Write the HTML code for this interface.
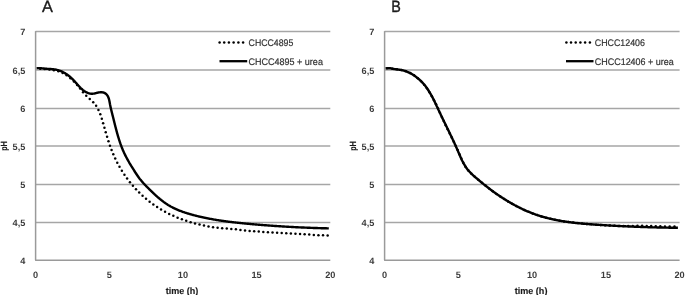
<!DOCTYPE html>
<html><head><meta charset="utf-8"><style>
html,body{margin:0;padding:0;background:#fff;}
body{width:685px;height:295px;overflow:hidden;}
svg{display:block;text-rendering:geometricPrecision;}
.gl{stroke:#a6a6a6;stroke-width:1.3;}
.ax{stroke:#9a9a9a;stroke-width:1.5;}
.tk{font-family:"Liberation Sans",sans-serif;font-weight:bold;font-size:9.2px;fill:#3c3c3c;}
.ttl{font-family:"Liberation Sans",sans-serif;font-weight:bold;font-size:9px;fill:#1a1a1a;stroke:#1a1a1a;stroke-width:0.15;}
.lg{font-family:"Liberation Sans",sans-serif;font-size:9.6px;fill:#333;stroke:#333;stroke-width:0.2;}
.big{font-family:"Liberation Sans",sans-serif;font-size:16.3px;fill:#1a1a1a;stroke:#1a1a1a;stroke-width:0.35;}
.sol{fill:none;stroke:#000;stroke-width:2.4;stroke-linejoin:round;stroke-linecap:butt;}
.dd{fill:#000;}
.dot{fill:none;stroke:#000;stroke-width:2.5;stroke-dasharray:0 4.6;stroke-linecap:round;}
</style></head><body>
<svg width="685" height="295" viewBox="0 0 685 295">
<line x1="35.6" y1="31.50" x2="330.3" y2="31.50" class="gl"/>
<line x1="35.6" y1="70.00" x2="330.3" y2="70.00" class="gl"/>
<line x1="35.6" y1="108.50" x2="330.3" y2="108.50" class="gl"/>
<line x1="35.6" y1="146.00" x2="330.3" y2="146.00" class="gl"/>
<line x1="35.6" y1="184.50" x2="330.3" y2="184.50" class="gl"/>
<line x1="35.6" y1="222.50" x2="330.3" y2="222.50" class="gl"/>
<line x1="35.6" y1="31.1" x2="35.6" y2="260.2" class="ax"/>
<line x1="35.1" y1="260.2" x2="330.3" y2="260.2" class="ax"/>
<text x="25.3" y="35.4" class="tk" text-anchor="end">7</text>
<text x="25.3" y="73.9" class="tk" text-anchor="end">6,5</text>
<text x="25.3" y="112.4" class="tk" text-anchor="end">6</text>
<text x="25.3" y="149.9" class="tk" text-anchor="end">5,5</text>
<text x="25.3" y="188.4" class="tk" text-anchor="end">5</text>
<text x="25.3" y="226.4" class="tk" text-anchor="end">4,5</text>
<text x="25.3" y="264.0" class="tk" text-anchor="end">4</text>
<text x="35.6" y="278.3" class="tk" text-anchor="middle">0</text>
<text x="109.3" y="278.3" class="tk" text-anchor="middle">5</text>
<text x="182.9" y="278.3" class="tk" text-anchor="middle">10</text>
<text x="256.6" y="278.3" class="tk" text-anchor="middle">15</text>
<text x="330.3" y="278.3" class="tk" text-anchor="middle">20</text>
<text x="182.0" y="293.5" class="ttl" text-anchor="middle" textLength="32.6" lengthAdjust="spacingAndGlyphs" style="font-size:9.4px">time (h)</text>
<text transform="translate(7.1,146) rotate(-90)" class="ttl" text-anchor="middle" textLength="9.5" lengthAdjust="spacingAndGlyphs">pH</text>
<text x="42.0" y="11.6" class="big">A</text>
<g class="dd"><circle cx="219.6" cy="42.6" r="1.25"/><circle cx="224.2" cy="42.6" r="1.25"/><circle cx="228.9" cy="42.6" r="1.25"/><circle cx="233.6" cy="42.6" r="1.25"/><circle cx="238.4" cy="42.6" r="1.25"/><circle cx="243.1" cy="42.6" r="1.25"/></g>
<line x1="219.5" y1="61.2" x2="247.2" y2="61.2" class="sol" style="stroke-width:2.3"/>
<text x="248.6" y="45.8" class="lg" textLength="44.7" lengthAdjust="spacingAndGlyphs">CHCC4895</text>
<text x="248.6" y="65.3" class="lg" textLength="74.3" lengthAdjust="spacingAndGlyphs">CHCC4895 + urea</text>
<g class="dd"><circle cx="40.17" cy="68.82" r="1.25"/>
<circle cx="44.76" cy="69.11" r="1.25"/>
<circle cx="49.34" cy="69.50" r="1.25"/>
<circle cx="53.89" cy="70.16" r="1.25"/>
<circle cx="58.36" cy="71.27" r="1.25"/>
<circle cx="62.62" cy="72.99" r="1.25"/>
<circle cx="66.60" cy="75.28" r="1.25"/>
<circle cx="70.41" cy="78.15" r="1.25"/>
<circle cx="73.89" cy="81.38" r="1.25"/>
<circle cx="77.10" cy="84.89" r="1.25"/>
<circle cx="80.08" cy="88.59" r="1.25"/>
<circle cx="83.04" cy="92.29" r="1.25"/>
<circle cx="86.24" cy="95.77" r="1.25"/>
<circle cx="89.77" cy="98.93" r="1.25"/>
<circle cx="93.22" cy="102.14" r="1.25"/>
<circle cx="96.14" cy="105.84" r="1.25"/>
<circle cx="98.46" cy="109.94" r="1.25"/>
<circle cx="100.29" cy="114.28" r="1.25"/>
<circle cx="101.80" cy="118.73" r="1.25"/>
<circle cx="103.14" cy="123.24" r="1.25"/>
<circle cx="104.44" cy="127.75" r="1.25"/>
<circle cx="105.74" cy="132.25" r="1.25"/>
<circle cx="107.08" cy="136.74" r="1.25"/>
<circle cx="108.47" cy="141.20" r="1.25"/>
<circle cx="109.96" cy="145.64" r="1.25"/>
<circle cx="111.55" cy="150.03" r="1.25"/>
<circle cx="113.29" cy="154.36" r="1.25"/>
<circle cx="115.19" cy="158.62" r="1.25"/>
<circle cx="117.26" cy="162.79" r="1.25"/>
<circle cx="119.49" cy="166.87" r="1.25"/>
<circle cx="121.89" cy="170.86" r="1.25"/>
<circle cx="124.43" cy="174.75" r="1.25"/>
<circle cx="127.11" cy="178.54" r="1.25"/>
<circle cx="129.94" cy="182.22" r="1.25"/>
<circle cx="132.90" cy="185.79" r="1.25"/>
<circle cx="135.99" cy="189.24" r="1.25"/>
<circle cx="139.21" cy="192.57" r="1.25"/>
<circle cx="142.55" cy="195.76" r="1.25"/>
<circle cx="146.02" cy="198.82" r="1.25"/>
<circle cx="149.61" cy="201.73" r="1.25"/>
<circle cx="153.32" cy="204.49" r="1.25"/>
<circle cx="157.14" cy="207.09" r="1.25"/>
<circle cx="161.06" cy="209.53" r="1.25"/>
<circle cx="165.07" cy="211.80" r="1.25"/>
<circle cx="169.17" cy="213.91" r="1.25"/>
<circle cx="173.34" cy="215.87" r="1.25"/>
<circle cx="177.58" cy="217.68" r="1.25"/>
<circle cx="181.87" cy="219.34" r="1.25"/>
<circle cx="186.22" cy="220.86" r="1.25"/>
<circle cx="190.61" cy="222.25" r="1.25"/>
<circle cx="195.03" cy="223.50" r="1.25"/>
<circle cx="199.50" cy="224.62" r="1.25"/>
<circle cx="203.99" cy="225.61" r="1.25"/>
<circle cx="208.50" cy="226.47" r="1.25"/>
<circle cx="213.04" cy="227.19" r="1.25"/>
<circle cx="217.60" cy="227.76" r="1.25"/>
<circle cx="222.17" cy="228.20" r="1.25"/>
<circle cx="226.76" cy="228.52" r="1.25"/>
<circle cx="231.34" cy="228.88" r="1.25"/>
<circle cx="235.90" cy="229.37" r="1.25"/>
<circle cx="240.46" cy="229.93" r="1.25"/>
<circle cx="245.03" cy="230.43" r="1.25"/>
<circle cx="249.60" cy="230.88" r="1.25"/>
<circle cx="254.17" cy="231.27" r="1.25"/>
<circle cx="258.75" cy="231.61" r="1.25"/>
<circle cx="263.34" cy="231.91" r="1.25"/>
<circle cx="267.92" cy="232.19" r="1.25"/>
<circle cx="272.51" cy="232.45" r="1.25"/>
<circle cx="277.10" cy="232.70" r="1.25"/>
<circle cx="281.69" cy="232.94" r="1.25"/>
<circle cx="286.28" cy="233.20" r="1.25"/>
<circle cx="290.87" cy="233.47" r="1.25"/>
<circle cx="295.46" cy="233.75" r="1.25"/>
<circle cx="300.05" cy="234.03" r="1.25"/>
<circle cx="304.64" cy="234.32" r="1.25"/>
<circle cx="309.24" cy="234.60" r="1.25"/>
<circle cx="313.83" cy="234.88" r="1.25"/>
<circle cx="318.43" cy="235.13" r="1.25"/>
<circle cx="323.03" cy="235.37" r="1.25"/>
<circle cx="327.64" cy="235.58" r="1.25"/></g>
<path d="M36.61,68.17 L37.21,68.14 L37.81,68.13 L38.41,68.13 L39.02,68.15 L39.62,68.17 L40.22,68.21 L40.82,68.25 L41.42,68.30 L42.02,68.35 L42.62,68.41 L43.21,68.47 L43.81,68.53 L44.41,68.60 L45.01,68.65 L45.61,68.71 L46.21,68.76 L46.81,68.81 L47.41,68.85 L48.01,68.89 L48.61,68.92 L49.21,68.96 L49.81,68.99 L50.41,69.03 L51.01,69.07 L51.61,69.12 L52.21,69.17 L52.81,69.22 L53.41,69.29 L54.01,69.36 L54.60,69.45 L55.20,69.54 L55.79,69.65 L56.38,69.77 L56.97,69.91 L57.55,70.06 L58.13,70.22 L58.70,70.39 L59.28,70.58 L59.84,70.78 L60.41,70.99 L60.97,71.21 L61.52,71.44 L62.07,71.68 L62.62,71.94 L63.16,72.21 L63.69,72.48 L64.22,72.77 L64.74,73.07 L65.26,73.37 L65.78,73.69 L66.28,74.01 L66.78,74.34 L67.28,74.69 L67.77,75.04 L68.25,75.39 L68.73,75.76 L69.20,76.13 L69.67,76.51 L70.13,76.90 L70.58,77.30 L71.03,77.70 L71.47,78.10 L71.91,78.52 L72.34,78.94 L72.77,79.36 L73.19,79.79 L73.60,80.23 L74.01,80.67 L74.42,81.11 L74.83,81.56 L75.23,82.01 L75.63,82.46 L76.03,82.91 L76.42,83.36 L76.82,83.81 L77.22,84.26 L77.62,84.71 L78.02,85.16 L78.42,85.61 L78.83,86.05 L79.24,86.49 L79.65,86.93 L80.07,87.36 L80.49,87.79 L80.92,88.21 L81.36,88.62 L81.80,89.03 L82.26,89.43 L82.72,89.82 L83.18,90.19 L83.66,90.56 L84.15,90.91 L84.65,91.25 L85.15,91.58 L85.67,91.88 L86.20,92.17 L86.74,92.45 L87.28,92.70 L87.84,92.93 L88.40,93.13 L88.98,93.31 L89.56,93.46 L90.15,93.59 L90.74,93.68 L91.34,93.73 L91.94,93.75 L92.55,93.74 L93.15,93.68 L93.74,93.60 L94.33,93.49 L94.92,93.36 L95.51,93.22 L96.09,93.08 L96.67,92.93 L97.26,92.78 L97.84,92.64 L98.43,92.52 L99.02,92.41 L99.62,92.33 L100.22,92.27 L100.82,92.23 L101.42,92.23 L102.02,92.26 L102.62,92.33 L103.21,92.45 L103.79,92.62 L104.34,92.85 L104.88,93.12 L105.39,93.45 L105.87,93.81 L106.31,94.21 L106.73,94.65 L107.11,95.11 L107.46,95.60 L107.77,96.12 L108.05,96.65 L108.30,97.20 L108.52,97.76 L108.72,98.33 L108.89,98.90 L109.05,99.48 L109.20,100.07 L109.33,100.65 L109.45,101.24 L109.56,101.83 L109.67,102.43 L109.78,103.02 L109.89,103.61 L109.99,104.20 L110.11,104.79 L110.22,105.38 L110.34,105.97 L110.46,106.56 L110.59,107.15 L110.72,107.74 L110.85,108.33 L110.99,108.91 L111.12,109.50 L111.26,110.08 L111.41,110.67 L111.55,111.25 L111.69,111.84 L111.84,112.42 L111.99,113.00 L112.13,113.59 L112.28,114.17 L112.43,114.75 L112.58,115.34 L112.73,115.92 L112.88,116.50 L113.02,117.09 L113.17,117.67 L113.32,118.25 L113.46,118.84 L113.61,119.42 L113.75,120.01 L113.90,120.59 L114.05,121.17 L114.19,121.76 L114.34,122.34 L114.48,122.93 L114.63,123.51 L114.78,124.09 L114.92,124.68 L115.07,125.26 L115.22,125.84 L115.37,126.43 L115.52,127.01 L115.67,127.59 L115.82,128.17 L115.97,128.76 L116.12,129.34 L116.28,129.92 L116.43,130.50 L116.59,131.08 L116.74,131.66 L116.90,132.24 L117.06,132.83 L117.22,133.40 L117.39,133.98 L117.55,134.56 L117.72,135.14 L117.88,135.72 L118.05,136.30 L118.22,136.87 L118.40,137.45 L118.57,138.03 L118.75,138.60 L118.93,139.18 L119.11,139.75 L119.29,140.32 L119.48,140.90 L119.67,141.47 L119.86,142.04 L120.05,142.61 L120.25,143.18 L120.44,143.74 L120.65,144.31 L120.85,144.88 L121.06,145.44 L121.27,146.01 L121.48,146.57 L121.69,147.13 L121.91,147.69 L122.13,148.25 L122.36,148.81 L122.59,149.37 L122.82,149.92 L123.05,150.48 L123.29,151.03 L123.54,151.58 L123.78,152.13 L124.03,152.68 L124.28,153.22 L124.54,153.77 L124.80,154.31 L125.07,154.85 L125.33,155.39 L125.60,155.93 L125.88,156.46 L126.16,157.00 L126.44,157.53 L126.72,158.06 L127.00,158.59 L127.29,159.12 L127.58,159.64 L127.88,160.17 L128.17,160.69 L128.47,161.22 L128.77,161.74 L129.07,162.26 L129.38,162.78 L129.68,163.30 L129.99,163.81 L130.30,164.33 L130.61,164.85 L130.92,165.36 L131.23,165.88 L131.55,166.39 L131.86,166.90 L132.18,167.41 L132.50,167.93 L132.81,168.44 L133.13,168.95 L133.45,169.46 L133.77,169.97 L134.09,170.48 L134.41,170.99 L134.73,171.49 L135.06,172.00 L135.38,172.51 L135.71,173.01 L136.04,173.52 L136.37,174.02 L136.70,174.52 L137.04,175.02 L137.38,175.52 L137.72,176.01 L138.06,176.50 L138.41,176.99 L138.77,177.48 L139.12,177.97 L139.49,178.45 L139.85,178.93 L140.22,179.40 L140.60,179.87 L140.98,180.34 L141.36,180.80 L141.75,181.26 L142.14,181.72 L142.54,182.17 L142.94,182.62 L143.34,183.07 L143.75,183.51 L144.15,183.95 L144.56,184.39 L144.98,184.83 L145.39,185.27 L145.81,185.70 L146.23,186.13 L146.65,186.56 L147.07,186.99 L147.50,187.42 L147.92,187.84 L148.35,188.27 L148.77,188.69 L149.20,189.12 L149.63,189.54 L150.06,189.96 L150.49,190.38 L150.92,190.80 L151.35,191.22 L151.78,191.64 L152.21,192.06 L152.65,192.48 L153.08,192.89 L153.52,193.31 L153.96,193.72 L154.40,194.13 L154.84,194.54 L155.28,194.95 L155.73,195.35 L156.17,195.76 L156.62,196.16 L157.07,196.56 L157.52,196.96 L157.98,197.35 L158.43,197.74 L158.89,198.13 L159.35,198.52 L159.81,198.91 L160.28,199.29 L160.74,199.67 L161.21,200.05 L161.69,200.42 L162.16,200.79 L162.64,201.16 L163.12,201.52 L163.60,201.88 L164.09,202.23 L164.57,202.59 L165.06,202.93 L165.56,203.28 L166.06,203.62 L166.56,203.95 L167.06,204.28 L167.56,204.61 L168.07,204.93 L168.59,205.24 L169.10,205.56 L169.62,205.86 L170.14,206.16 L170.66,206.46 L171.19,206.75 L171.72,207.03 L172.25,207.31 L172.79,207.59 L173.33,207.86 L173.87,208.13 L174.41,208.39 L174.95,208.65 L175.50,208.90 L176.05,209.15 L176.60,209.39 L177.15,209.63 L177.70,209.87 L178.26,210.10 L178.81,210.33 L179.37,210.55 L179.93,210.77 L180.49,210.99 L181.06,211.20 L181.62,211.41 L182.19,211.62 L182.75,211.82 L183.32,212.02 L183.89,212.21 L184.46,212.41 L185.03,212.60 L185.60,212.78 L186.18,212.97 L186.75,213.15 L187.32,213.33 L187.90,213.50 L188.48,213.68 L189.05,213.85 L189.63,214.02 L190.21,214.18 L190.79,214.35 L191.37,214.51 L191.95,214.67 L192.53,214.83 L193.11,214.99 L193.69,215.14 L194.27,215.30 L194.85,215.45 L195.44,215.60 L196.02,215.75 L196.60,215.89 L197.19,216.04 L197.77,216.18 L198.36,216.32 L198.94,216.46 L199.53,216.60 L200.11,216.74 L200.70,216.87 L201.29,217.01 L201.87,217.14 L202.46,217.27 L203.05,217.40 L203.64,217.53 L204.23,217.65 L204.81,217.78 L205.40,217.90 L205.99,218.02 L206.58,218.14 L207.17,218.26 L207.76,218.38 L208.35,218.49 L208.94,218.61 L209.54,218.72 L210.13,218.83 L210.72,218.94 L211.31,219.05 L211.90,219.16 L212.49,219.26 L213.09,219.37 L213.68,219.47 L214.27,219.57 L214.87,219.68 L215.46,219.78 L216.05,219.87 L216.65,219.97 L217.24,220.07 L217.84,220.16 L218.43,220.26 L219.02,220.35 L219.62,220.44 L220.21,220.53 L220.81,220.62 L221.40,220.71 L222.00,220.80 L222.60,220.88 L223.19,220.97 L223.79,221.05 L224.38,221.13 L224.98,221.22 L225.58,221.30 L226.17,221.38 L226.77,221.46 L227.37,221.53 L227.96,221.61 L228.56,221.69 L229.16,221.76 L229.75,221.84 L230.35,221.91 L230.95,221.98 L231.55,222.06 L232.14,222.13 L232.74,222.20 L233.34,222.27 L233.94,222.34 L234.53,222.41 L235.13,222.47 L235.73,222.54 L236.33,222.61 L236.93,222.67 L237.52,222.74 L238.12,222.80 L238.72,222.86 L239.32,222.93 L239.92,222.99 L240.52,223.05 L241.12,223.11 L241.71,223.17 L242.31,223.23 L242.91,223.29 L243.51,223.35 L244.11,223.41 L244.71,223.47 L245.31,223.52 L245.91,223.58 L246.51,223.64 L247.11,223.69 L247.70,223.75 L248.30,223.80 L248.90,223.86 L249.50,223.91 L250.10,223.97 L250.70,224.02 L251.30,224.08 L251.90,224.13 L252.50,224.18 L253.10,224.24 L253.70,224.29 L254.30,224.34 L254.90,224.39 L255.50,224.44 L256.10,224.49 L256.70,224.55 L257.30,224.60 L257.90,224.65 L258.50,224.70 L259.09,224.75 L259.69,224.80 L260.29,224.84 L260.89,224.89 L261.49,224.94 L262.09,224.99 L262.69,225.04 L263.29,225.08 L263.89,225.13 L264.49,225.18 L265.09,225.22 L265.69,225.27 L266.29,225.32 L266.89,225.36 L267.49,225.41 L268.09,225.45 L268.69,225.50 L269.29,225.54 L269.89,225.58 L270.49,225.63 L271.09,225.67 L271.70,225.71 L272.30,225.76 L272.90,225.80 L273.50,225.84 L274.10,225.88 L274.70,225.93 L275.30,225.97 L275.90,226.01 L276.50,226.05 L277.10,226.09 L277.70,226.13 L278.30,226.17 L278.90,226.21 L279.50,226.25 L280.10,226.28 L280.70,226.32 L281.30,226.36 L281.90,226.40 L282.50,226.43 L283.10,226.47 L283.70,226.51 L284.31,226.55 L284.91,226.58 L285.51,226.62 L286.11,226.65 L286.71,226.69 L287.31,226.72 L287.91,226.76 L288.51,226.79 L289.11,226.83 L289.71,226.86 L290.31,226.89 L290.91,226.92 L291.51,226.96 L292.12,226.99 L292.72,227.02 L293.32,227.05 L293.92,227.09 L294.52,227.12 L295.12,227.15 L295.72,227.18 L296.32,227.21 L296.92,227.24 L297.52,227.27 L298.13,227.30 L298.73,227.33 L299.33,227.35 L299.93,227.38 L300.53,227.41 L301.13,227.44 L301.73,227.47 L302.33,227.49 L302.93,227.52 L303.54,227.55 L304.14,227.57 L304.74,227.60 L305.34,227.62 L305.94,227.65 L306.54,227.67 L307.14,227.70 L307.74,227.72 L308.35,227.75 L308.95,227.77 L309.55,227.79 L310.15,227.82 L310.75,227.84 L311.35,227.86 L311.95,227.88 L312.56,227.90 L313.16,227.93 L313.76,227.95 L314.36,227.97 L314.96,227.99 L315.56,228.01 L316.16,228.03 L316.77,228.05 L317.37,228.07 L317.97,228.09 L318.57,228.11 L319.17,228.12 L319.77,228.14 L320.37,228.16 L320.98,228.18 L321.58,228.20 L322.18,228.21 L322.78,228.23 L323.38,228.24 L323.98,228.26 L324.59,228.28 L325.19,228.29 L325.79,228.31 L326.39,228.32 L326.99,228.34 L327.59,228.35 L328.19,228.36 L328.80,228.38" class="sol"/>
<line x1="384.6" y1="31.50" x2="679.6" y2="31.50" class="gl"/>
<line x1="384.6" y1="70.00" x2="679.6" y2="70.00" class="gl"/>
<line x1="384.6" y1="108.50" x2="679.6" y2="108.50" class="gl"/>
<line x1="384.6" y1="146.00" x2="679.6" y2="146.00" class="gl"/>
<line x1="384.6" y1="184.50" x2="679.6" y2="184.50" class="gl"/>
<line x1="384.6" y1="222.50" x2="679.6" y2="222.50" class="gl"/>
<line x1="384.6" y1="31.1" x2="384.6" y2="260.2" class="ax"/>
<line x1="384.1" y1="260.2" x2="679.6" y2="260.2" class="ax"/>
<text x="374.4" y="35.4" class="tk" text-anchor="end">7</text>
<text x="374.4" y="73.9" class="tk" text-anchor="end">6,5</text>
<text x="374.4" y="112.4" class="tk" text-anchor="end">6</text>
<text x="374.4" y="149.9" class="tk" text-anchor="end">5,5</text>
<text x="374.4" y="188.4" class="tk" text-anchor="end">5</text>
<text x="374.4" y="226.4" class="tk" text-anchor="end">4,5</text>
<text x="374.4" y="264.0" class="tk" text-anchor="end">4</text>
<text x="384.6" y="278.3" class="tk" text-anchor="middle">0</text>
<text x="458.4" y="278.3" class="tk" text-anchor="middle">5</text>
<text x="532.1" y="278.3" class="tk" text-anchor="middle">10</text>
<text x="605.9" y="278.3" class="tk" text-anchor="middle">15</text>
<text x="679.6" y="278.3" class="tk" text-anchor="middle">20</text>
<text x="531.1" y="293.5" class="ttl" text-anchor="middle" textLength="32.6" lengthAdjust="spacingAndGlyphs" style="font-size:9.4px">time (h)</text>
<text transform="translate(356.1,146) rotate(-90)" class="ttl" text-anchor="middle" textLength="9.5" lengthAdjust="spacingAndGlyphs">pH</text>
<text x="391.2" y="11.6" class="big" textLength="9.6" lengthAdjust="spacingAndGlyphs">B</text>
<g class="dd"><circle cx="566.4" cy="42.6" r="1.25"/><circle cx="571.0" cy="42.6" r="1.25"/><circle cx="575.7" cy="42.6" r="1.25"/><circle cx="580.4" cy="42.6" r="1.25"/><circle cx="585.1" cy="42.6" r="1.25"/><circle cx="589.9" cy="42.6" r="1.25"/></g>
<line x1="566.0" y1="61.2" x2="593.5" y2="61.2" class="sol" style="stroke-width:2.3"/>
<text x="594.8" y="45.8" class="lg" textLength="50.1" lengthAdjust="spacingAndGlyphs">CHCC12406</text>
<text x="594.8" y="65.3" class="lg" textLength="78.9" lengthAdjust="spacingAndGlyphs">CHCC12406 + urea</text>
<g class="dd"><circle cx="387.76" cy="68.29" r="1.25"/>
<circle cx="392.35" cy="68.64" r="1.25"/>
<circle cx="396.90" cy="69.29" r="1.25"/>
<circle cx="401.42" cy="70.11" r="1.25"/>
<circle cx="405.86" cy="71.32" r="1.25"/>
<circle cx="410.11" cy="73.06" r="1.25"/>
<circle cx="414.09" cy="75.37" r="1.25"/>
<circle cx="417.74" cy="78.16" r="1.25"/>
<circle cx="421.10" cy="81.30" r="1.25"/>
<circle cx="424.17" cy="84.72" r="1.25"/>
<circle cx="426.97" cy="88.37" r="1.25"/>
<circle cx="429.52" cy="92.20" r="1.25"/>
<circle cx="431.86" cy="96.16" r="1.25"/>
<circle cx="434.02" cy="100.22" r="1.25"/>
<circle cx="436.05" cy="104.35" r="1.25"/>
<circle cx="438.00" cy="108.52" r="1.25"/>
<circle cx="439.92" cy="112.70" r="1.25"/>
<circle cx="441.84" cy="116.88" r="1.25"/>
<circle cx="443.76" cy="121.06" r="1.25"/>
<circle cx="445.71" cy="125.22" r="1.25"/>
<circle cx="447.70" cy="129.37" r="1.25"/>
<circle cx="449.73" cy="133.50" r="1.25"/>
<circle cx="451.78" cy="137.62" r="1.25"/>
<circle cx="453.82" cy="141.74" r="1.25"/>
<circle cx="455.80" cy="145.89" r="1.25"/>
<circle cx="457.69" cy="150.08" r="1.25"/>
<circle cx="459.48" cy="154.32" r="1.25"/>
<circle cx="461.27" cy="158.56" r="1.25"/>
<circle cx="463.23" cy="162.72" r="1.25"/>
<circle cx="465.51" cy="166.72" r="1.25"/>
<circle cx="468.24" cy="170.41" r="1.25"/>
<circle cx="471.40" cy="173.75" r="1.25"/>
<circle cx="474.82" cy="176.82" r="1.25"/>
<circle cx="478.35" cy="179.78" r="1.25"/>
<circle cx="481.90" cy="182.70" r="1.25"/>
<circle cx="485.47" cy="185.60" r="1.25"/>
<circle cx="489.09" cy="188.44" r="1.25"/>
<circle cx="492.76" cy="191.22" r="1.25"/>
<circle cx="496.49" cy="193.90" r="1.25"/>
<circle cx="500.29" cy="196.50" r="1.25"/>
<circle cx="504.16" cy="198.99" r="1.25"/>
<circle cx="508.08" cy="201.39" r="1.25"/>
<circle cx="512.07" cy="203.69" r="1.25"/>
<circle cx="516.11" cy="205.88" r="1.25"/>
<circle cx="520.21" cy="207.97" r="1.25"/>
<circle cx="524.36" cy="209.95" r="1.25"/>
<circle cx="528.57" cy="211.79" r="1.25"/>
<circle cx="532.85" cy="213.50" r="1.25"/>
<circle cx="537.17" cy="215.05" r="1.25"/>
<circle cx="541.56" cy="216.45" r="1.25"/>
<circle cx="545.98" cy="217.70" r="1.25"/>
<circle cx="550.45" cy="218.80" r="1.25"/>
<circle cx="554.94" cy="219.78" r="1.25"/>
<circle cx="559.46" cy="220.64" r="1.25"/>
<circle cx="564.00" cy="221.39" r="1.25"/>
<circle cx="568.56" cy="222.04" r="1.25"/>
<circle cx="573.12" cy="222.61" r="1.25"/>
<circle cx="577.69" cy="223.11" r="1.25"/>
<circle cx="582.27" cy="223.55" r="1.25"/>
<circle cx="586.85" cy="223.95" r="1.25"/>
<circle cx="591.44" cy="224.32" r="1.25"/>
<circle cx="596.03" cy="224.66" r="1.25"/>
<circle cx="600.61" cy="225.00" r="1.25"/>
<circle cx="605.20" cy="225.33" r="1.25"/>
<circle cx="609.79" cy="225.62" r="1.25"/>
<circle cx="614.39" cy="225.85" r="1.25"/>
<circle cx="618.98" cy="225.98" r="1.25"/>
<circle cx="623.58" cy="226.01" r="1.25"/>
<circle cx="628.18" cy="225.97" r="1.25"/>
<circle cx="632.78" cy="225.90" r="1.25"/>
<circle cx="637.48" cy="225.86" r="1.25"/>
<circle cx="642.10" cy="225.87" r="1.25"/>
<circle cx="646.67" cy="225.93" r="1.25"/>
<circle cx="651.21" cy="226.02" r="1.25"/>
<circle cx="655.75" cy="226.13" r="1.25"/>
<circle cx="660.33" cy="226.26" r="1.25"/>
<circle cx="664.95" cy="226.38" r="1.25"/>
<circle cx="669.66" cy="226.49" r="1.25"/>
<circle cx="674.47" cy="226.57" r="1.25"/></g>
<path d="M385.60,68.58 L386.17,68.40 L386.76,68.26 L387.35,68.17 L387.95,68.13 L388.56,68.12 L389.16,68.16 L389.76,68.22 L390.35,68.30 L390.94,68.40 L391.54,68.52 L392.13,68.64 L392.72,68.76 L393.31,68.87 L393.90,68.97 L394.50,69.07 L395.09,69.16 L395.69,69.24 L396.28,69.32 L396.88,69.40 L397.48,69.47 L398.07,69.55 L398.67,69.63 L399.27,69.71 L399.86,69.80 L400.46,69.89 L401.05,69.99 L401.64,70.10 L402.23,70.22 L402.82,70.35 L403.41,70.49 L403.99,70.65 L404.57,70.81 L405.14,70.99 L405.71,71.18 L406.28,71.38 L406.84,71.60 L407.40,71.82 L407.95,72.06 L408.50,72.30 L409.05,72.56 L409.59,72.82 L410.12,73.10 L410.66,73.38 L411.18,73.67 L411.71,73.97 L412.22,74.28 L412.74,74.59 L413.25,74.91 L413.75,75.24 L414.25,75.57 L414.75,75.91 L415.24,76.26 L415.73,76.62 L416.21,76.98 L416.69,77.34 L417.16,77.71 L417.63,78.09 L418.09,78.47 L418.55,78.86 L419.01,79.26 L419.46,79.66 L419.90,80.06 L420.34,80.48 L420.77,80.89 L421.20,81.32 L421.62,81.75 L422.04,82.18 L422.45,82.62 L422.86,83.06 L423.26,83.51 L423.65,83.97 L424.04,84.43 L424.43,84.89 L424.81,85.36 L425.18,85.83 L425.55,86.30 L425.91,86.78 L426.27,87.27 L426.63,87.75 L426.98,88.24 L427.32,88.74 L427.66,89.23 L428.00,89.73 L428.33,90.24 L428.65,90.74 L428.98,91.25 L429.29,91.76 L429.61,92.28 L429.92,92.79 L430.23,93.31 L430.53,93.83 L430.83,94.35 L431.12,94.88 L431.42,95.40 L431.71,95.93 L431.99,96.46 L432.28,96.99 L432.56,97.52 L432.84,98.06 L433.11,98.59 L433.38,99.13 L433.66,99.67 L433.92,100.20 L434.19,100.74 L434.46,101.28 L434.72,101.82 L434.98,102.37 L435.24,102.91 L435.50,103.45 L435.76,104.00 L436.02,104.54 L436.27,105.09 L436.53,105.63 L436.78,106.18 L437.04,106.72 L437.29,107.27 L437.55,107.81 L437.80,108.36 L438.05,108.90 L438.31,109.45 L438.56,110.00 L438.82,110.54 L439.07,111.09 L439.33,111.63 L439.58,112.18 L439.84,112.72 L440.10,113.27 L440.35,113.81 L440.61,114.35 L440.87,114.90 L441.13,115.44 L441.39,115.98 L441.65,116.52 L441.91,117.07 L442.17,117.61 L442.44,118.15 L442.70,118.69 L442.96,119.24 L443.22,119.78 L443.48,120.32 L443.75,120.86 L444.01,121.40 L444.27,121.94 L444.54,122.48 L444.80,123.03 L445.06,123.57 L445.33,124.11 L445.59,124.65 L445.86,125.19 L446.12,125.73 L446.38,126.27 L446.65,126.81 L446.91,127.35 L447.17,127.90 L447.44,128.44 L447.70,128.98 L447.96,129.52 L448.23,130.06 L448.49,130.60 L448.75,131.14 L449.02,131.69 L449.28,132.23 L449.54,132.77 L449.80,133.31 L450.06,133.85 L450.32,134.40 L450.58,134.94 L450.84,135.48 L451.10,136.03 L451.36,136.57 L451.62,137.11 L451.88,137.66 L452.13,138.20 L452.39,138.75 L452.65,139.29 L452.90,139.84 L453.16,140.38 L453.41,140.93 L453.66,141.47 L453.92,142.02 L454.17,142.57 L454.42,143.11 L454.67,143.66 L454.92,144.21 L455.17,144.76 L455.42,145.31 L455.66,145.85 L455.91,146.40 L456.15,146.95 L456.40,147.50 L456.64,148.05 L456.88,148.61 L457.12,149.16 L457.36,149.71 L457.60,150.26 L457.84,150.81 L458.08,151.37 L458.31,151.92 L458.55,152.48 L458.78,153.03 L459.02,153.58 L459.26,154.14 L459.49,154.69 L459.73,155.24 L459.97,155.80 L460.21,156.35 L460.45,156.90 L460.70,157.45 L460.95,158.00 L461.19,158.55 L461.45,159.09 L461.70,159.64 L461.96,160.18 L462.23,160.72 L462.49,161.26 L462.77,161.80 L463.04,162.33 L463.32,162.86 L463.61,163.39 L463.90,163.92 L464.20,164.44 L464.51,164.96 L464.82,165.48 L465.13,165.99 L465.46,166.50 L465.79,167.00 L466.13,167.50 L466.48,167.99 L466.83,168.47 L467.19,168.95 L467.56,169.43 L467.94,169.90 L468.33,170.36 L468.72,170.82 L469.12,171.27 L469.52,171.71 L469.93,172.15 L470.35,172.59 L470.77,173.02 L471.19,173.45 L471.62,173.87 L472.06,174.28 L472.49,174.70 L472.93,175.11 L473.38,175.52 L473.82,175.92 L474.27,176.32 L474.72,176.72 L475.18,177.11 L475.63,177.51 L476.09,177.90 L476.55,178.29 L477.01,178.68 L477.47,179.07 L477.93,179.46 L478.39,179.85 L478.85,180.23 L479.31,180.62 L479.77,181.00 L480.24,181.39 L480.70,181.77 L481.16,182.16 L481.63,182.54 L482.09,182.92 L482.56,183.30 L483.03,183.68 L483.50,184.06 L483.96,184.44 L484.43,184.81 L484.90,185.19 L485.37,185.56 L485.85,185.94 L486.32,186.31 L486.79,186.68 L487.27,187.05 L487.74,187.42 L488.22,187.79 L488.69,188.16 L489.17,188.52 L489.65,188.89 L490.13,189.25 L490.61,189.62 L491.09,189.98 L491.58,190.34 L492.06,190.69 L492.54,191.05 L493.03,191.41 L493.52,191.76 L494.00,192.11 L494.49,192.47 L494.98,192.82 L495.47,193.16 L495.96,193.51 L496.46,193.86 L496.95,194.20 L497.45,194.54 L497.94,194.88 L498.44,195.22 L498.94,195.56 L499.44,195.90 L499.94,196.23 L500.44,196.57 L500.94,196.90 L501.44,197.23 L501.95,197.56 L502.45,197.88 L502.96,198.21 L503.47,198.53 L503.98,198.86 L504.49,199.18 L505.00,199.50 L505.51,199.81 L506.02,200.13 L506.53,200.44 L507.05,200.76 L507.56,201.07 L508.08,201.38 L508.60,201.68 L509.12,201.99 L509.64,202.29 L510.16,202.59 L510.68,202.90 L511.20,203.19 L511.72,203.49 L512.25,203.79 L512.77,204.08 L513.30,204.37 L513.83,204.66 L514.36,204.95 L514.88,205.24 L515.42,205.52 L515.95,205.80 L516.48,206.09 L517.01,206.37 L517.55,206.64 L518.08,206.92 L518.62,207.19 L519.16,207.46 L519.69,207.73 L520.23,208.00 L520.77,208.27 L521.31,208.53 L521.86,208.79 L522.40,209.05 L522.94,209.31 L523.49,209.56 L524.04,209.81 L524.58,210.06 L525.13,210.31 L525.68,210.56 L526.23,210.80 L526.78,211.04 L527.33,211.28 L527.89,211.52 L528.44,211.75 L529.00,211.99 L529.56,212.21 L530.11,212.44 L530.67,212.67 L531.23,212.89 L531.79,213.11 L532.35,213.32 L532.92,213.54 L533.48,213.75 L534.04,213.96 L534.61,214.16 L535.18,214.36 L535.74,214.56 L536.31,214.76 L536.88,214.96 L537.45,215.15 L538.03,215.34 L538.60,215.52 L539.17,215.71 L539.75,215.89 L540.32,216.07 L540.90,216.24 L541.47,216.41 L542.05,216.59 L542.63,216.75 L543.21,216.92 L543.79,217.08 L544.37,217.24 L544.95,217.40 L545.53,217.56 L546.11,217.71 L546.69,217.86 L547.28,218.01 L547.86,218.16 L548.44,218.30 L549.03,218.45 L549.61,218.59 L550.20,218.72 L550.79,218.86 L551.37,218.99 L551.96,219.12 L552.55,219.25 L553.14,219.38 L553.73,219.51 L554.31,219.63 L554.90,219.75 L555.49,219.87 L556.08,219.99 L556.67,220.11 L557.27,220.22 L557.86,220.33 L558.45,220.44 L559.04,220.55 L559.63,220.66 L560.23,220.76 L560.82,220.87 L561.41,220.97 L562.01,221.07 L562.60,221.16 L563.19,221.26 L563.79,221.35 L564.38,221.45 L564.98,221.54 L565.57,221.63 L566.17,221.72 L566.77,221.80 L567.36,221.89 L567.96,221.97 L568.55,222.06 L569.15,222.14 L569.75,222.22 L570.34,222.29 L570.94,222.37 L571.54,222.45 L572.14,222.52 L572.73,222.59 L573.33,222.66 L573.93,222.73 L574.53,222.80 L575.12,222.87 L575.72,222.94 L576.32,223.00 L576.92,223.07 L577.52,223.13 L578.12,223.19 L578.72,223.25 L579.31,223.31 L579.91,223.37 L580.51,223.43 L581.11,223.49 L581.71,223.54 L582.31,223.60 L582.91,223.65 L583.51,223.71 L584.11,223.76 L584.71,223.81 L585.31,223.86 L585.91,223.91 L586.51,223.96 L587.11,224.01 L587.71,224.06 L588.31,224.10 L588.91,224.15 L589.51,224.20 L590.11,224.24 L590.71,224.29 L591.31,224.33 L591.91,224.37 L592.51,224.42 L593.11,224.46 L593.71,224.50 L594.31,224.54 L594.91,224.58 L595.51,224.62 L596.11,224.66 L596.72,224.70 L597.32,224.74 L597.92,224.78 L598.52,224.82 L599.12,224.86 L599.72,224.90 L600.32,224.93 L600.92,224.97 L601.52,225.01 L602.12,225.05 L602.72,225.08 L603.32,225.12 L603.92,225.16 L604.52,225.19 L605.13,225.23 L605.73,225.27 L606.33,225.30 L606.93,225.34 L607.53,225.37 L608.13,225.41 L608.73,225.44 L609.33,225.48 L609.93,225.51 L610.53,225.55 L611.14,225.58 L611.74,225.61 L612.34,225.65 L612.94,225.68 L613.54,225.71 L614.14,225.75 L614.74,225.78 L615.34,225.81 L615.94,225.84 L616.54,225.87 L617.15,225.90 L617.75,225.94 L618.35,225.97 L618.95,226.00 L619.55,226.03 L620.15,226.06 L620.75,226.09 L621.35,226.12 L621.96,226.15 L622.56,226.18 L623.16,226.21 L623.76,226.24 L624.36,226.26 L624.96,226.29 L625.56,226.32 L626.16,226.35 L626.77,226.38 L627.37,226.40 L627.97,226.43 L628.57,226.46 L629.17,226.48 L629.77,226.51 L630.37,226.54 L630.97,226.56 L631.58,226.59 L632.18,226.61 L632.78,226.64 L633.38,226.66 L633.98,226.69 L634.58,226.71 L635.18,226.74 L635.79,226.76 L636.39,226.78 L636.99,226.81 L637.59,226.83 L638.19,226.85 L638.79,226.88 L639.40,226.90 L640.00,226.92 L640.60,226.94 L641.20,226.96 L641.80,226.99 L642.40,227.01 L643.00,227.03 L643.61,227.05 L644.21,227.07 L644.81,227.09 L645.41,227.11 L646.01,227.13 L646.61,227.15 L647.22,227.17 L647.82,227.18 L648.42,227.20 L649.02,227.22 L649.62,227.24 L650.22,227.26 L650.83,227.27 L651.43,227.29 L652.03,227.31 L652.63,227.33 L653.23,227.34 L653.83,227.36 L654.44,227.37 L655.04,227.39 L655.64,227.40 L656.24,227.42 L656.84,227.43 L657.45,227.45 L658.05,227.46 L658.65,227.48 L659.25,227.49 L659.85,227.50 L660.45,227.52 L661.06,227.53 L661.66,227.54 L662.26,227.56 L662.86,227.57 L663.46,227.58 L664.07,227.59 L664.67,227.60 L665.27,227.61 L665.87,227.63 L666.47,227.64 L667.07,227.65 L667.68,227.66 L668.28,227.67 L668.88,227.68 L669.48,227.68 L670.08,227.69 L670.69,227.70 L671.29,227.71 L671.89,227.72 L672.49,227.73 L673.09,227.73 L673.70,227.74 L674.30,227.75 L674.90,227.76 L675.50,227.76 L676.10,227.77 L676.70,227.77 L677.31,227.78 L677.91,227.79" class="sol"/>
</svg>
</body></html>
